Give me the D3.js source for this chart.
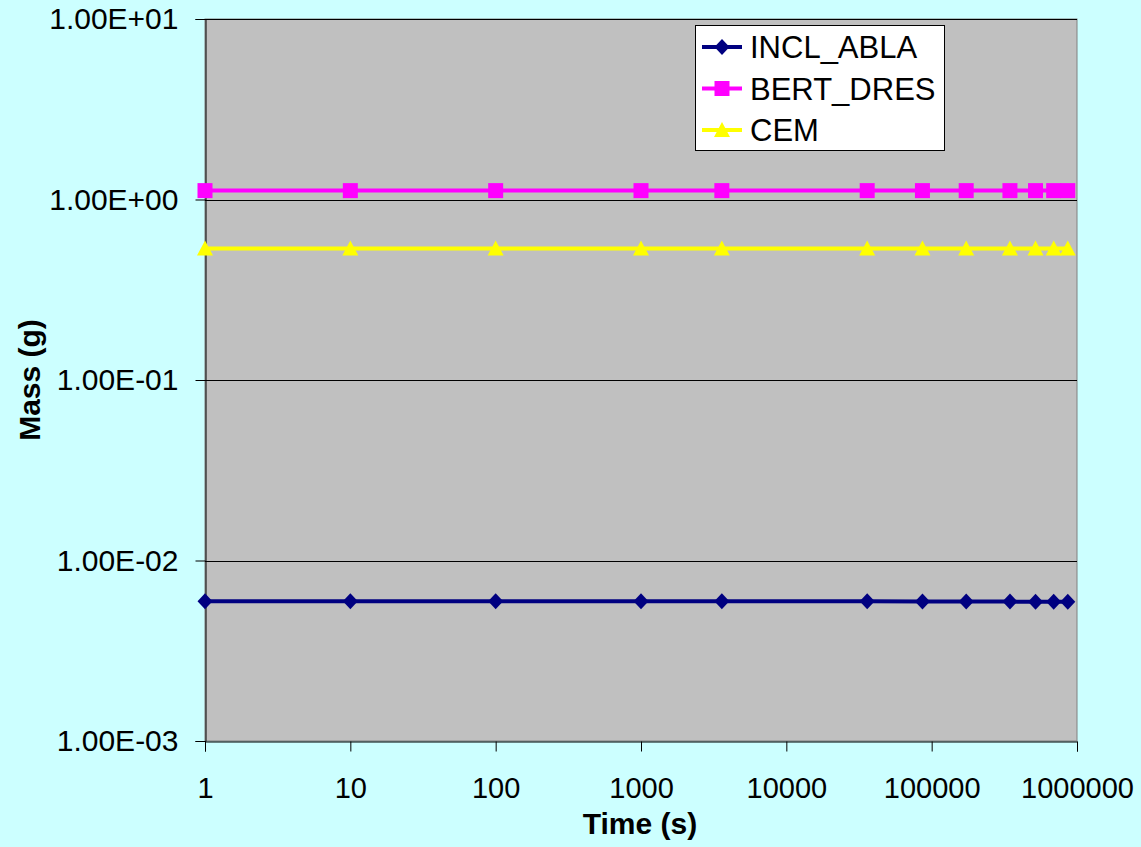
<!DOCTYPE html>
<html>
<head>
<meta charset="utf-8">
<script src="https://cdn.jsdelivr.net/npm/d3@7"></script>
<style>
  html, body { margin: 0; padding: 0; background: #CCFFFF; }
  svg { display: block; }
  text { font-family: "Liberation Sans", Arial, sans-serif; fill: #000; }
</style>
</head>
<body>
<svg id="chart" width="1141" height="847"></svg>
<script>
// Time points (s): 1 s up to 10 days
const times = [1, 10, 100, 1000, 3600, 36000, 86400, 172800, 345600, 518400, 691200, 864000];

// Mass (g) per model at each time point
const inclAbla = [0.00595, 0.00595, 0.00595, 0.00595, 0.00595, 0.00594, 0.00593, 0.00592, 0.00592, 0.00591, 0.00591, 0.00590];
const bertDres = [1.12, 1.12, 1.12, 1.12, 1.12, 1.12, 1.12, 1.12, 1.12, 1.12, 1.12, 1.12];
const cem      = [0.535, 0.535, 0.535, 0.535, 0.535, 0.535, 0.535, 0.535, 0.535, 0.535, 0.535, 0.535];

const seriesNames = ["INCL_ABLA", "BERT_DRES", "CEM"];
const xTicks = [1, 10, 100, 1000, 10000, 100000, 1000000];
const yTicks = [1e-3, 1e-2, 1e-1, 1e0, 1e1];
const yTickLabels = ["1.00E-03", "1.00E-02", "1.00E-01", "1.00E+00", "1.00E+01"];

const series = [
  { name: seriesNames[0], values: inclAbla, color: "#000080", marker: "diamond", width: 4 },
  { name: seriesNames[1], values: bertDres, color: "#FF00FF", marker: "square", width: 4 },
  { name: seriesNames[2], values: cem,      color: "#FFFF00", marker: "triangle", width: 4 }
];

const svg = d3.select("#chart");
const plot = { left: 205, top: 19, right: 1077, bottom: 741 };

const x = d3.scaleLog().domain([1, 1e6]).range([plot.left, plot.right]);
const y = d3.scaleLog().domain([1e-3, 1e1]).range([plot.bottom, plot.top]);

// plot area
svg.append("rect")
  .attr("x", plot.left).attr("y", plot.top)
  .attr("width", plot.right - plot.left).attr("height", plot.bottom - plot.top)
  .attr("fill", "#C0C0C0").attr("stroke", "#808080").attr("stroke-width", 1);

// horizontal gridlines at each decade
svg.append("g").selectAll("line").data(yTicks.slice(1)).join("line")
  .attr("x1", plot.left).attr("x2", plot.right)
  .attr("y1", d => Math.round(y(d)) + 0.5).attr("y2", d => Math.round(y(d)) + 0.5)
  .attr("stroke", "#000").attr("stroke-width", 1);

// y axis
const yAxis = d3.axisLeft(y).tickValues(yTicks)
  .tickFormat((d, i) => yTickLabels[i]).tickSize(10).tickPadding(17);
const gy = svg.append("g").attr("transform", `translate(${plot.left + 0.5},0)`).call(yAxis);
gy.select(".domain").attr("stroke", "#000");
gy.selectAll(".tick line").attr("stroke", "#000");
gy.selectAll(".tick text").attr("font-size", 30).attr("fill", "#000")
  .attr("font-family", "'Liberation Sans', Arial, sans-serif");

// x axis
const xAxis = d3.axisBottom(x).tickValues(xTicks)
  .tickFormat(d3.format("d")).tickSize(10).tickPadding(26);
const gx = svg.append("g").attr("transform", `translate(0,${plot.bottom + 0.5})`).call(xAxis);
gx.select(".domain").attr("stroke", "#000");
gx.selectAll(".tick line").attr("stroke", "#000");
gx.selectAll(".tick text").attr("font-size", 29).attr("fill", "#000")
  .attr("font-family", "'Liberation Sans', Arial, sans-serif");

// axis titles
svg.append("text")
  .attr("x", 640).attr("y", 834)
  .attr("text-anchor", "middle").attr("font-size", 30).attr("font-weight", "bold")
  .text("Time (s)");
svg.append("text")
  .attr("transform", `translate(40,380) rotate(-90)`)
  .attr("text-anchor", "middle").attr("font-size", 30).attr("font-weight", "bold")
  .text("Mass (g)");

// marker shapes
function markerPath(type) {
  if (type === "diamond") return "M0,-8L7.5,0L0,8L-7.5,0Z";
  if (type === "square") return "M-7.5,-7.5H7.5V7.5H-7.5Z";
  return "M0,-8L8,7H-8Z";
}

const line = d3.line().x(d => x(d[0])).y(d => y(d[1]));

series.forEach(s => {
  const pts = times.map((t, i) => [t, s.values[i]]);
  const g = svg.append("g");
  g.append("path").datum(pts).attr("d", line)
    .attr("fill", "none").attr("stroke", s.color).attr("stroke-width", s.width);
  g.selectAll("path.m").data(pts).join("path").attr("class", "m")
    .attr("transform", d => `translate(${x(d[0])},${y(d[1])})`)
    .attr("d", markerPath(s.marker)).attr("fill", s.color);
});

// legend
const legend = svg.append("g");
legend.append("rect").attr("x", 695.5).attr("y", 25.5).attr("width", 249).attr("height", 125)
  .attr("fill", "#fff").attr("stroke", "#000").attr("stroke-width", 1);
series.forEach((s, i) => {
  const cy = 47 + i * 41.5;
  legend.append("line").attr("x1", 702).attr("x2", 742).attr("y1", cy).attr("y2", cy)
    .attr("stroke", s.color).attr("stroke-width", s.width);
  legend.append("path").attr("transform", `translate(722,${cy})`)
    .attr("d", markerPath(s.marker)).attr("fill", s.color);
  legend.append("text").attr("x", 750).attr("y", cy + 11)
    .attr("font-size", 31).text(s.name);
});
</script>
</body>
</html>
